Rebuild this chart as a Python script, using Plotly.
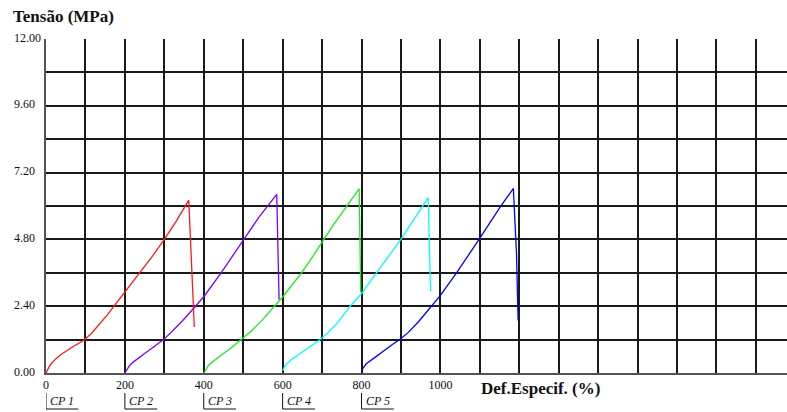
import plotly.graph_objects as go

# Specimen curves: strain (%) and stress (MPa), each specimen offset by 200 %
cp1_x = [0, 4, 10, 18, 28, 40, 55, 70, 85, 98, 115, 135, 155, 170, 200, 238, 270, 300, 330, 362, 376]
cp1_y = [0, 0.14, 0.28, 0.41, 0.55, 0.68, 0.83, 0.96, 1.08, 1.2, 1.42, 1.74, 2.08, 2.36, 2.9,
         3.6, 4.2, 4.8, 5.45, 6.21, 1.65]

cp2_x = [200, 205, 212, 222, 235, 250, 265, 282, 298, 320, 345, 379, 400, 444, 470, 500, 540, 585, 591]
cp2_y = [0, 0.12, 0.27, 0.4, 0.55, 0.7, 0.85, 1.02, 1.2, 1.5, 1.86, 2.4, 2.74, 3.6, 4.15, 4.8,
         5.6, 6.42, 2.63]

cp3_x = [400, 405, 412, 422, 435, 450, 466, 481, 496, 520, 548, 580, 600, 648, 675, 702, 730,
         762, 794, 798]
cp3_y = [0, 0.12, 0.27, 0.4, 0.55, 0.7, 0.86, 1.03, 1.2, 1.5, 1.9, 2.4, 2.73, 3.6, 4.15, 4.75,
         5.35, 5.98, 6.62, 2.9]

cp4_x = [600, 604, 612, 623, 638, 655, 675, 695, 715, 740, 771, 800, 838, 870, 900, 925, 952,
         969, 975]
cp4_y = [0.08, 0.2, 0.35, 0.49, 0.64, 0.8, 0.98, 1.2, 1.45, 1.82, 2.4, 2.85, 3.6, 4.2, 4.8,
         5.35, 5.92, 6.3, 2.94]

cp5_x = [800, 804, 812, 824, 836, 850, 865, 880, 897, 918, 945, 976, 1000, 1041, 1070, 1098,
         1151, 1185, 1193, 1197]
cp5_y = [0.05, 0.18, 0.33, 0.47, 0.58, 0.73, 0.9, 1.04, 1.2, 1.45, 1.85, 2.4, 2.79, 3.6, 4.2,
         4.8, 5.95, 6.63, 4.27, 1.89]

cp_names = ["CP 1", "CP 2", "CP 3", "CP 4", "CP 5"]
cp_starts = [0, 200, 400, 600, 800]
cp_colors = ["#FF1a1a", "#7F00FF", "#1AEE1A", "#00FFFF", "#0000FF"]

x_tick_vals = list(range(0, 1900, 100))
x_tick_text = ["0", "", "200", "", "400", "", "600", "", "800", "", "1000"] + [""] * 8
y_tick_vals = [0, 1.2, 2.4, 3.6, 4.8, 6.0, 7.2, 8.4, 9.6, 10.8, 12.0]
y_label_vals = [0, 2.4, 4.8, 7.2, 9.6, 12.0]
y_label_text = ["0.00", "2.40", "4.80", "7.20", "9.60", "12.00"]

SERIF = "Liberation Serif, Times New Roman, serif"

fig = go.Figure()
series = [(cp1_x, cp1_y), (cp2_x, cp2_y), (cp3_x, cp3_y), (cp4_x, cp4_y), (cp5_x, cp5_y)]
for (xs, ys), name, color in zip(series, cp_names, cp_colors):
    fig.add_trace(go.Scatter(x=xs, y=ys, mode="lines", name=name,
                             line=dict(color=color, width=1.3), showlegend=False))

W, H = 787, 412
ML, MR, MT, MB = 46, 0, 39, 39
pw, ph = W - ML - MR, H - MT - MB


def px_to_paper_x(px):
    return (px - ML) / pw


def px_to_paper_y(py):
    return (H - MB - py) / ph


annotations = []
# y tick labels, left aligned
for v, t in zip(y_label_vals, y_label_text):
    annotations.append(dict(x=px_to_paper_x(12), y=v, xref="paper", yref="y",
                            text=t, showarrow=False, xanchor="left", yanchor="middle",
                            yshift=1.5, font=dict(family=SERIF, size=12, color="#111")))
annotations.append(dict(x=px_to_paper_x(11), y=px_to_paper_y(16), xref="paper", yref="paper",
                        text="<b>Tensão (MPa)</b>", showarrow=False, xanchor="left",
                        yanchor="middle", font=dict(family=SERIF, size=17, color="#111")))
annotations.append(dict(x=px_to_paper_x(479), y=px_to_paper_y(388), xref="paper", yref="paper",
                        text="<b>Def.Especif. (%)</b>", showarrow=False, xanchor="left",
                        yanchor="middle", font=dict(family=SERIF, size=17, color="#111")))

shapes = []
for name, s in zip(cp_names, cp_starts):
    annotations.append(dict(x=s, y=px_to_paper_y(401), xref="x", yref="paper",
                            text="<i>" + name + "</i>", showarrow=False, xanchor="left",
                            yanchor="middle", xshift=2,
                            font=dict(family=SERIF, size=12, color="#111")))
    shapes.append(dict(type="line", xref="x", yref="paper", x0=s, x1=s,
                       y0=px_to_paper_y(393), y1=px_to_paper_y(409),
                       line=dict(color="#111", width=1)))
    shapes.append(dict(type="line", xref="x", yref="paper", x0=s, x1=s + 82,
                       y0=px_to_paper_y(409), y1=px_to_paper_y(409),
                       line=dict(color="#111", width=1)))

fig.update_layout(
    width=W, height=H,
    margin=dict(l=ML, r=MR, t=MT, b=MB, pad=0),
    paper_bgcolor="white", plot_bgcolor="white",
    annotations=annotations, shapes=shapes,
    xaxis=dict(range=[0, pw / 0.3944], tickmode="array", tickvals=x_tick_vals,
               ticktext=x_tick_text, showgrid=True, gridcolor="#1a1a1a", gridwidth=1.6,
               zeroline=False, showline=True, linecolor="#555", linewidth=2,
               ticks="", tickfont=dict(family=SERIF, size=12, color="#111")),
    yaxis=dict(range=[0, 12], tickmode="array", tickvals=y_tick_vals,
               showticklabels=False, showgrid=True, gridcolor="#1a1a1a", gridwidth=1.6,
               zeroline=False, showline=True, linecolor="#555", linewidth=2, ticks=""),
)

fig.write_html("out.html")
